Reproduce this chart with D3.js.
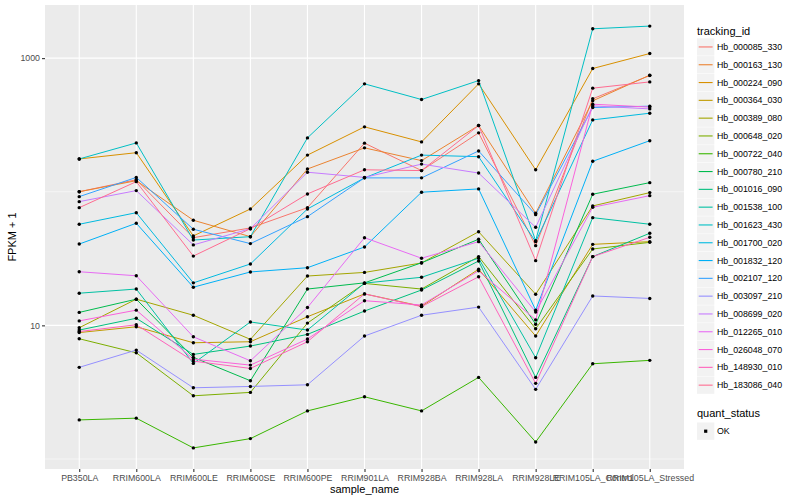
<!DOCTYPE html>
<html>
<head>
<meta charset="utf-8">
<script src="https://cdn.jsdelivr.net/npm/d3@7"></script>
<style>
body { margin: 0; background: #fff; }
svg { font-family: "Liberation Sans", Arial, Helvetica, sans-serif; }
</style>
</head>
<body>
<svg id="chart" width="800" height="500"></svg>
<script>
// categories and series names
const samples = ["PB350LA", "RRIM600LA", "RRIM600LE", "RRIM600SE", "RRIM600PE", "RRIM901LA",
    "RRIM928BA", "RRIM928LA", "RRIM928LE", "RRIM105LA_Control", "RRIM105LA_Stressed"];
const trackingIds = ["Hb_000085_330", "Hb_000163_130", "Hb_000224_090", "Hb_000364_030", "Hb_000389_080",
    "Hb_000648_020", "Hb_000722_040", "Hb_000780_210", "Hb_001016_090", "Hb_001538_100",
    "Hb_001623_430", "Hb_001700_020", "Hb_001832_120", "Hb_002107_120", "Hb_003097_210",
    "Hb_008699_020", "Hb_012265_010", "Hb_026048_070", "Hb_148930_010", "Hb_183086_040"];
const quantStatus = ["OK"];

// FPKM + 1 per sample
const hb_000085_330 = [100, 123, 45.3, 53.6, 76.0, 231, 144, 276, 39.5, 496, 741];
const hb_000163_130 = [100, 121, 61.2, 46.1, 148, 213, 171, 313, 69.0, 479, 746];
const hb_000224_090 = [176, 196, 46.7, 74.3, 188, 306, 236, 642, 146, 836, 1083];
const hb_000364_030 = [8.83, 9.76, 7.41, 7.54, 11.6, 17.2, 13.9, 26.3, 8.32, 40.4, 42.3];
const hb_000389_080 = [9.60, 15.7, 11.9, 7.86, 23.4, 24.9, 29.3, 50.2, 17.1, 78.3, 98.5];
const hb_000648_020 = [7.94, 6.23, 2.97, 3.15, 10.4, 20.6, 18.7, 32.7, 9.43, 37.3, 41.8];
const hb_000722_040 = [1.96, 2.02, 1.21, 1.42, 2.29, 2.92, 2.29, 4.08, 1.34, 5.16, 5.47];
const hb_000780_210 = [12.5, 15.7, 5.76, 3.85, 18.7, 20.8, 29.4, 44.1, 10.2, 95.8, 117];
const hb_001016_090 = [9.22, 11.3, 6.06, 7.00, 8.56, 12.8, 18.4, 30.3, 4.08, 32.7, 48.9];
const hb_001538_100 = [17.4, 18.7, 5.19, 10.6, 9.22, 20.7, 22.9, 31.8, 5.72, 64.0, 57.1];
const hb_001623_430 = [176, 232, 43.5, 46.1, 253, 642, 490, 679, 43.0, 1658, 1737];
const hb_001700_020 = [57.1, 69.7, 20.8, 28.8, 74.3, 127, 188, 183, 42.3, 345, 387];
const hb_001832_120 = [40.6, 58.1, 19.3, 25.1, 27.0, 38.6, 99.2, 105, 13.0, 169, 241];
const hb_002107_120 = [91.9, 128, 52.4, 40.9, 65.1, 127, 127, 202, 67.4, 427, 437];
const hb_003097_210 = [4.85, 6.53, 3.41, 3.49, 3.59, 8.32, 11.9, 13.7, 3.32, 16.6, 15.9];
const hb_008699_020 = [84.3, 102, 40.0, 52.9, 140, 128, 161, 138, 54.2, 439, 417];
const hb_012265_010 = [25.2, 23.5, 8.21, 5.43, 13.6, 45.3, 31.8, 42.3, 12.6, 76.5, 93.5];
const hb_026048_070 = [10.8, 13.0, 5.59, 5.04, 7.90, 15.3, 14.2, 25.6, 11.0, 452, 430];
const hb_148930_010 = [8.99, 10.1, 5.40, 4.76, 7.54, 17.2, 13.8, 23.1, 3.68, 32.7, 45.6];
const hb_183086_040 = [76.0, 119, 33.0, 52.9, 96.3, 146, 144, 313, 30.5, 596, 664];

const seriesValues = [hb_000085_330, hb_000163_130, hb_000224_090, hb_000364_030, hb_000389_080,
    hb_000648_020, hb_000722_040, hb_000780_210, hb_001016_090, hb_001538_100,
    hb_001623_430, hb_001700_020, hb_001832_120, hb_002107_120, hb_003097_210,
    hb_008699_020, hb_012265_010, hb_026048_070, hb_148930_010, hb_183086_040];

const yMajor = [10, 1000];
const yMinor = [1, 100];

// ggplot hue palette, 20 levels
const palette = ["#F8766D", "#EA8331", "#D89000", "#C09B00", "#A3A500", "#7CAE00", "#39B600",
    "#00BB4E", "#00BF7D", "#00C1A3", "#00BFC4", "#00BAE0", "#00B0F6", "#35A2FF", "#9590FF",
    "#C77CFF", "#E76BF3", "#FA62DB", "#FF62BC", "#FF6C91"];

var svg = d3.select("#chart");

const panelLeft = 45;
const panelRight = 684;
const panelTop = 5;
const panelBottom = 469;

const x = d3.scalePoint().domain(samples).range([panelLeft, panelRight]).padding(0.6);

// log scale with 5% expansion in log space, like ggplot
const logExt = d3.extent(seriesValues.flat()).map(Math.log10);
const pad = (logExt[1] - logExt[0]) * 0.05;
const y = d3.scaleLog()
    .domain([Math.pow(10, logExt[0] - pad), Math.pow(10, logExt[1] + pad)])
    .range([panelBottom, panelTop]);

// panel
svg.append("rect")
    .attr("x", panelLeft).attr("y", panelTop)
    .attr("width", panelRight - panelLeft).attr("height", panelBottom - panelTop)
    .attr("fill", "#EBEBEB");

var grid = svg.append("g");
grid.selectAll(".minor").data(yMinor).enter().append("line")
    .attr("x1", panelLeft).attr("x2", panelRight)
    .attr("y1", d => y(d)).attr("y2", d => y(d))
    .attr("stroke", "#fff").attr("stroke-width", 0.55);
grid.selectAll(".major").data(yMajor).enter().append("line")
    .attr("x1", panelLeft).attr("x2", panelRight)
    .attr("y1", d => y(d)).attr("y2", d => y(d))
    .attr("stroke", "#fff").attr("stroke-width", 1.1);
grid.selectAll(".vx").data(samples).enter().append("line")
    .attr("x1", d => x(d)).attr("x2", d => x(d))
    .attr("y1", panelTop).attr("y2", panelBottom)
    .attr("stroke", "#fff").attr("stroke-width", 1.1);

// lines
var line = d3.line()
    .x((d, i) => x(samples[i]))
    .y(d => y(d));

svg.append("g").selectAll("path").data(seriesValues).enter().append("path")
    .attr("d", line)
    .attr("fill", "none")
    .attr("stroke", (d, i) => palette[i])
    .attr("stroke-width", 1);

// points
var pts = svg.append("g");
seriesValues.forEach(function (vals) {
    pts.selectAll(null).data(vals).enter().append("circle")
        .attr("cx", (d, i) => x(samples[i]))
        .attr("cy", d => y(d))
        .attr("r", 1.7)
        .attr("fill", "#000");
});

// axes
var yAxis = svg.append("g")
    .attr("transform", `translate(${panelLeft},0)`)
    .call(d3.axisLeft(y).tickValues(yMajor).tickFormat(d3.format("d")).tickSize(3).tickPadding(2));
var xAxis = svg.append("g")
    .attr("transform", `translate(0,${panelBottom})`)
    .call(d3.axisBottom(x).tickSize(3).tickPadding(2.5));

[yAxis, xAxis].forEach(function (ax) {
    ax.select(".domain").remove();
    ax.selectAll(".tick line").attr("stroke", "#333333").attr("stroke-width", 1.1);
    ax.selectAll(".tick text")
        .attr("fill", "#4D4D4D")
        .style("font-size", "8.8px")
        .style("font-family", "'Liberation Sans', Arial, sans-serif");
});

svg.append("text")
    .attr("x", (panelLeft + panelRight) / 2).attr("y", 493)
    .attr("text-anchor", "middle")
    .style("font-size", "11px")
    .text("sample_name");

svg.append("text")
    .attr("transform", `translate(16,${(panelTop + panelBottom) / 2}) rotate(-90)`)
    .attr("text-anchor", "middle")
    .style("font-size", "11px")
    .text("FPKM + 1");

// legend: tracking_id
const legX = 697;
const keyStep = 17.8;
const keyTop = 38.3;
svg.append("text")
    .attr("x", legX).attr("y", 35)
    .style("font-size", "11px")
    .text("tracking_id");

var leg = svg.append("g").selectAll("g").data(trackingIds).enter().append("g")
    .attr("transform", (d, i) => `translate(${legX},${keyTop + i * keyStep})`);
leg.append("rect")
    .attr("width", 17.3).attr("height", 17.3)
    .attr("fill", "#F2F2F2");
leg.append("line")
    .attr("x1", 1.7).attr("x2", 15.6)
    .attr("y1", 8.65).attr("y2", 8.65)
    .attr("stroke", (d, i) => palette[i])
    .attr("stroke-width", 1.1);
leg.append("text")
    .attr("x", 20).attr("y", 8.65).attr("dy", "0.35em")
    .style("font-size", "8.8px")
    .text(d => d);

// legend: quant_status
svg.append("text")
    .attr("x", legX).attr("y", 417)
    .style("font-size", "11px")
    .text("quant_status");

var qleg = svg.append("g").selectAll("g").data(quantStatus).enter().append("g")
    .attr("transform", (d, i) => `translate(${legX},${422.5 + i * keyStep})`);
qleg.append("rect")
    .attr("width", 17.3).attr("height", 17.3)
    .attr("fill", "#F2F2F2");
qleg.append("rect")
    .attr("x", 7.1).attr("y", 7.1)
    .attr("width", 3.2).attr("height", 3.2)
    .attr("fill", "#000");
qleg.append("text")
    .attr("x", 20).attr("y", 8.65).attr("dy", "0.35em")
    .style("font-size", "8.8px")
    .text(d => d);
</script>
</body>
</html>
